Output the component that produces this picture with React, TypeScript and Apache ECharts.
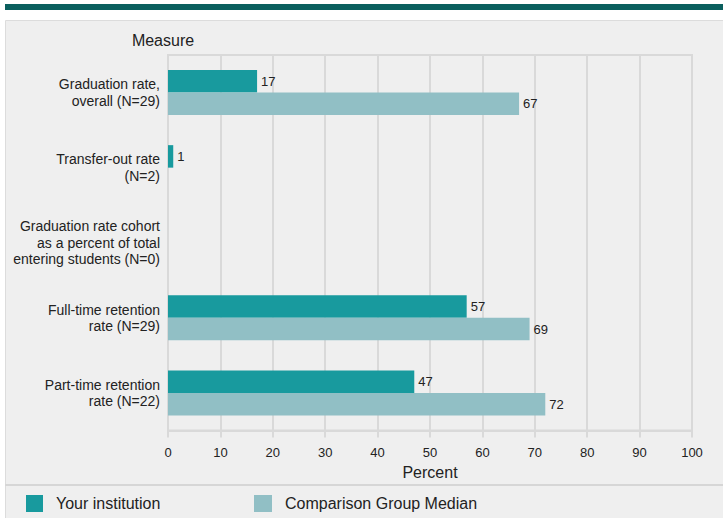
import React, { useEffect, useRef } from "react";
import * as echarts from "echarts";

const categories = [
  "Graduation rate,\noverall (N=29)",
  "Transfer-out rate\n(N=2)",
  "Graduation rate cohort\nas a percent of total\nentering students (N=0)",
  "Full-time retention\nrate (N=29)",
  "Part-time retention\nrate (N=22)",
];
const yourInstitution: (number | null)[] = [17, 1, null, 57, 47];
const comparisonMedian: (number | null)[] = [67, null, null, 69, 72];
const seriesNames = ["Your institution", "Comparison Group Median"];
const xTicks = { min: 0, max: 100, interval: 10 };

const TEAL = "#189a9e";
const LIGHT = "#91bfc5";
const GRID = "#d9d9d9";
const TEXT = "#222222";
const FONT = "'Liberation Sans', Arial, Helvetica, sans-serif";

export default function App() {
  const ref = useRef<HTMLDivElement>(null);
  useEffect(() => {
    if (!ref.current) return;
    const chart = echarts.init(ref.current, null, { renderer: "svg" });
    chart.setOption({
      animation: false,
      backgroundColor: "#ffffff",
      textStyle: { fontFamily: FONT, color: TEXT },
      graphic: [
        { type: "rect", z: -10, shape: { x: 5, y: 4, width: 718, height: 6 }, style: { fill: "#0b5f5e" } },
        { type: "rect", z: -10, shape: { x: 5.5, y: 20.5, width: 718, height: 498 }, style: { fill: "#efefef", stroke: "#dcdcdc", lineWidth: 1 } },
        { type: "line", z: -9, shape: { x1: 5, y1: 485, x2: 723, y2: 485 }, style: { stroke: "#d6d6d6", lineWidth: 2 } },
        { type: "text", z: 10, style: { x: 163, y: 40, text: "Measure", fill: TEXT, font: `16px ${FONT}`, textAlign: "center", textVerticalAlign: "middle" } },
      ],
      legend: [
        {
          data: [seriesNames[0]], left: 26, top: 495, itemWidth: 17, itemHeight: 17, icon: "rect",
          textStyle: { fontSize: 16, color: TEXT, fontFamily: FONT, padding: [0, 0, 0, 8] }, padding: 0,
        },
        {
          data: [seriesNames[1]], left: 254, top: 495, itemWidth: 18, itemHeight: 17, icon: "rect",
          textStyle: { fontSize: 16, color: TEXT, fontFamily: FONT, padding: [0, 0, 0, 8] }, padding: 0,
        },
      ],
      grid: {
        left: 168, right: 31, top: 55, bottom: 87.5,
        show: true, borderColor: GRID, borderWidth: 2, backgroundColor: "transparent",
      },
      xAxis: {
        type: "value", min: xTicks.min, max: xTicks.max, interval: xTicks.interval,
        name: "Percent", nameLocation: "middle", nameGap: 34,
        nameTextStyle: { fontSize: 16, color: TEXT, fontFamily: FONT },
        axisLine: { show: true, lineStyle: { color: GRID, width: 2 } },
        axisTick: { show: true, length: 7, lineStyle: { color: GRID, width: 2 } },
        axisLabel: { fontSize: 13, color: TEXT, fontFamily: FONT, margin: 15 },
        splitLine: { show: true, lineStyle: { color: GRID, width: 2 } },
      },
      yAxis: {
        type: "category", data: categories, inverse: true,
        axisLine: { show: false }, axisTick: { show: false },
        axisLabel: { fontSize: 14, color: TEXT, fontFamily: FONT, lineHeight: 16.5, align: "right", margin: 8 },
      },
      series: [
        {
          name: seriesNames[0], type: "bar", data: yourInstitution, barWidth: 22.5, barGap: "0%",
          itemStyle: { color: TEAL },
          label: { show: true, position: "right", distance: 4, fontSize: 13, color: TEXT, fontFamily: FONT },
        },
        {
          name: seriesNames[1], type: "bar", data: comparisonMedian, barWidth: 22.5, barGap: "0%",
          itemStyle: { color: LIGHT },
          label: { show: true, position: "right", distance: 4, fontSize: 13, color: TEXT, fontFamily: FONT },
        },
      ],
    });
    return () => chart.dispose();
  }, []);
  return <div ref={ref} style={{ position: "fixed", left: 0, top: 0, width: 723, height: 518 }} />;
}
